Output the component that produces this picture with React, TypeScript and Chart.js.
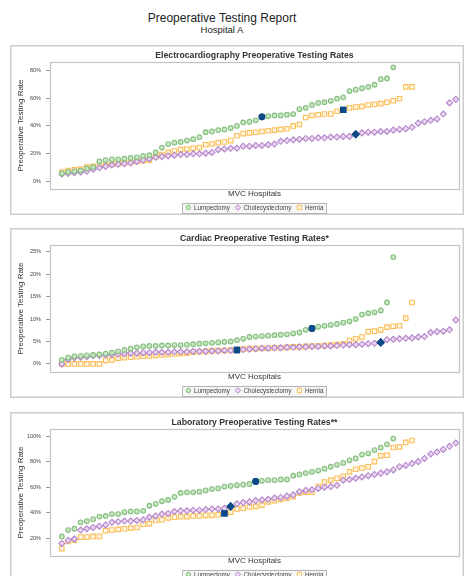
import React, { useEffect, useRef } from 'react';
import { Chart, registerables } from 'chart.js';
import { drawPoint } from 'chart.js/helpers';

Chart.register(...registerables);

const FONT = '"Liberation Sans", Arial, sans-serif';

// ---------- data ----------
const procedures = ['Lumpectomy', 'Cholecystectomy', 'Hernia'];

// Electrocardiography (% of patients), hospitals ranked ascending
const ecgLumpectomy = [6, 7, 7.5, 8, 9.5, 10.5, 14.5, 15.5, 16, 16, 16.5, 17, 17.5, 18.5, 19, 21, 24.5, 27, 28, 28.5, 29.5, 30.5, 32, 35.5, 36, 37, 37.5, 38.5, 40, 42.5, 43, 44, 46.5, 47, 47.5, 47.5, 48, 48.5, 52, 53, 55, 56.5, 57, 58, 59.5, 60.5, 65, 66, 67, 68, 69.5, 73.5, 74, 82];
const ecgCholecystectomy = [5.5, 6, 6.5, 7, 7.5, 9, 10, 11, 12, 12.5, 13, 13.5, 14.5, 15.5, 16.5, 17.5, 18, 18.5, 19, 19.5, 19.5, 20, 20, 20.5, 21, 23, 23.5, 24, 24, 25.5, 25.5, 26, 26, 26.5, 27, 29, 29.5, 30, 30.5, 31, 31, 31.5, 31.5, 32, 32, 32.5, 32.5, 34, 35, 35.5, 35.5, 36, 36, 37, 37.5, 38, 39, 42, 43, 44, 45, 48.5, 56.5, 59];
const ecgHernia = [7, 8, 8.5, 9, 10.5, 11, 11.5, 12, 12.5, 13, 13.5, 14, 14.5, 15, 15.5, 18, 19.5, 21, 22, 23, 23.5, 24, 24.5, 26.5, 27, 28, 28.5, 29.5, 33, 34.5, 35, 35.5, 36, 36.5, 37, 37.5, 38, 40, 41, 46, 47.5, 48, 48.5, 48.5, 50.5, 51.5, 53, 53.5, 54, 55, 55.5, 56, 57, 58, 59.5, 68, 68];
const ecgHospitalARank = [33, 48, 46];

// Cardiac
const cardiacLumpectomy = [0.9, 1.4, 1.7, 1.8, 1.9, 2.0, 2.1, 2.3, 2.5, 2.8, 3.1, 3.4, 3.7, 3.9, 4.0, 4.0, 4.1, 4.1, 4.2, 4.2, 4.3, 4.4, 4.5, 4.6, 4.7, 4.8, 4.9, 5.0, 5.3, 5.6, 6.0, 6.1, 6.2, 6.3, 6.4, 6.5, 6.6, 6.8, 7.0, 7.6, 7.9, 8.3, 8.5, 8.7, 8.9, 9.2, 9.5, 10.0, 11.0, 11.3, 11.5, 11.9, 13.7, 23.8];
const cardiacCholecystectomy = [0, 1.0, 1.4, 1.5, 1.6, 1.8, 1.9, 2.0, 2.1, 2.2, 2.3, 2.4, 2.4, 2.5, 2.5, 2.6, 2.6, 2.6, 2.7, 2.7, 2.7, 2.8, 2.8, 2.8, 2.9, 2.9, 3.0, 3.0, 3.1, 3.2, 3.3, 3.4, 3.5, 3.5, 3.6, 3.6, 3.7, 3.7, 3.8, 3.8, 3.9, 3.9, 4.0, 4.0, 4.1, 4.2, 4.3, 4.3, 4.4, 4.5, 4.6, 4.8, 5.4, 5.5, 5.6, 5.7, 5.8, 6.0, 6.1, 7.0, 7.2, 7.3, 7.6, 9.8];
const cardiacHernia = [0, 0, 0, 0, 0, 0, 0, 0.8, 0.9, 1.3, 1.4, 1.5, 1.6, 1.7, 1.8, 1.9, 2.0, 2.1, 2.2, 2.3, 2.4, 2.6, 2.7, 2.8, 2.9, 3.0, 3.0, 3.1, 3.1, 3.3, 3.4, 3.4, 3.5, 3.5, 3.6, 3.6, 3.7, 3.8, 3.8, 3.9, 4.0, 4.0, 4.1, 4.2, 4.3, 4.5, 5.2, 5.6, 6.0, 7.2, 7.3, 7.6, 8.2, 8.4, 8.5, 10.2, 13.7];
const cardiacHospitalARank = [41, 52, 29];

// Laboratory
const labLumpectomy = [21.5, 26.5, 27.5, 32.5, 33.5, 35, 37, 37.5, 39, 39, 40.5, 41, 41, 41.5, 45.5, 47, 49, 50, 52.5, 55.5, 56, 56, 56.5, 57.5, 58.5, 59, 60.5, 61, 61.5, 62, 62.5, 64.5, 65, 65.5, 65.5, 66, 66, 69, 70, 71, 72, 73, 74.5, 76, 77.5, 79, 81, 82.5, 85.5, 86.5, 89, 91, 93.5, 98];
const labCholecystectomy = [16, 18.5, 19.5, 26.5, 27.5, 28.5, 29.5, 30.5, 32.5, 33, 33.5, 33.5, 34, 34.5, 36.5, 37.5, 39, 39.5, 41, 41.5, 41.5, 42, 42, 42.5, 43, 43, 43.5, 45, 47, 48, 48.5, 49.5, 50, 50.5, 51.5, 52, 53, 54, 56.5, 57.5, 58, 59, 60, 60.5, 61.5, 65.5, 66, 67, 68, 69, 70, 71, 72, 73.5, 76, 77, 78.5, 80, 82.5, 86, 87.5, 89.5, 92, 94.5];
const labHernia = [12, 17.5, 18.5, 21, 21, 21.5, 21.5, 26, 26.5, 27, 27.5, 28, 28.5, 31, 31.5, 34, 34.5, 36, 36.5, 37, 37, 37.5, 37.5, 38, 38, 38.5, 39.5, 40.5, 43, 43.5, 44.5, 45, 46, 48.5, 49.5, 50.5, 51.5, 52.5, 55.5, 56, 56, 60.5, 64, 65.5, 67, 68.5, 72, 74, 75, 76, 80, 84.5, 85, 91, 91.5, 95, 96.5];
const labHospitalARank = [32, 28, 27];

// ---------- styling ----------
const markerStyles = ['circle', 'rectRot', 'rect'];
const markerRadius = [2.35, 3.0, 3.2];
const borderColors = ['#86bf80', '#b585c9', '#fbbd55'];
const fillColors = ['#cbe6c4', '#ead7f1', '#fff8e8'];
const hospitalAColor = '#0d4a88';

const panels = [
  { key: 'ecg', title: 'Electrocardiography Preoperative Testing Rates', series: [ecgLumpectomy, ecgCholecystectomy, ecgHernia], hospitalA: ecgHospitalARank, yMin: -5.2, yMax: 85.8, yStep: 20, top: 45 },
  { key: 'cardiac', title: 'Cardiac Preoperative Testing Rates*', series: [cardiacLumpectomy, cardiacCholecystectomy, cardiacHernia], hospitalA: cardiacHospitalARank, yMin: -1.8, yMax: 26.5, yStep: 5, top: 228 },
  { key: 'lab', title: 'Laboratory Preoperative Testing Rates**', series: [labLumpectomy, labCholecystectomy, labHernia], hospitalA: labHospitalARank, yMin: 6.2, yMax: 105.5, yStep: 20, top: 412 },
];

const CANVAS_W = 454;
const CANVAS_H = 170;

const panelDecor = {
  id: 'panelDecor',
  beforeDraw(chart: any) {
    const { ctx, width, height } = chart;
    ctx.save();
    ctx.fillStyle = '#ffffff';
    ctx.fillRect(0, 0, width, height);
    ctx.restore();
  },
  beforeDatasetsDraw(chart: any) {
    const { ctx, chartArea: a } = chart;
    ctx.save();
    ctx.strokeStyle = '#c4c4c4';
    ctx.lineWidth = 1.2;
    ctx.strokeRect(Math.round(a.left) + 0.5, Math.round(a.top) + 0.5, Math.round(a.right - a.left), Math.round(a.bottom - a.top));
    ctx.restore();
  },
  afterDatasetsDraw(chart: any, _args: any, opts: any) {
    // bring the Hospital A markers to the front
    const ranks: number[] = opts.hospitalA || [];
    chart.data.datasets.forEach((_d: any, s: number) => {
      const meta = chart.getDatasetMeta(s);
      const el = meta.data[ranks[s] - 1];
      if (el) el.draw(chart.ctx, chart.chartArea);
    });
  },
  afterDraw(chart: any) {
    const { ctx, chartArea: a, width, height } = chart;
    ctx.save();
    // outer frame
    ctx.strokeStyle = '#cdcdcd';
    ctx.lineWidth = 1.5;
    ctx.strokeRect(0.75, 0.75, width - 1.5, height - 1.5);

    // legend
    const ds = chart.data.datasets;
    ctx.font = `6.3px ${FONT}`;
    const markerW = 6;
    const gapM = 2.5;
    const gapItem = 5;
    const padX = 3;
    const widths = ds.map((d: any) => ctx.measureText(d.label).width);
    const total = padX * 2 + widths.reduce((s: number, w: number) => s + w + markerW + gapM, 0) + gapItem * (ds.length - 1);
    const cx = (a.left + a.right) / 2;
    const cy = a.bottom + 18.5;
    let x = cx - total / 2;
    ctx.fillStyle = '#f6f6f6';
    ctx.fillRect(x, cy - 5, total, 10);
    ctx.strokeStyle = '#b5b5b5';
    ctx.lineWidth = 1;
    ctx.strokeRect(Math.round(x) + 0.5, Math.round(cy - 5) + 0.5, Math.round(total), 10);
    x += padX;
    ds.forEach((d: any, i: number) => {
      ctx.fillStyle = fillColors[i];
      ctx.strokeStyle = borderColors[i];
      ctx.lineWidth = 1;
      drawPoint(ctx, { pointStyle: markerStyles[i], radius: i === 0 ? 2.2 : i === 1 ? 2.8 : 3.0, borderWidth: 1, rotation: 0 } as any, x + markerW / 2, cy);
      ctx.fillStyle = '#444';
      ctx.textBaseline = 'middle';
      ctx.textAlign = 'left';
      ctx.fillText(d.label, x + markerW + gapM, cy + 0.3);
      x += markerW + gapM + widths[i] + gapItem;
    });
    ctx.restore();
  },
};

function Panel({ panel }: { panel: any }) {
  const ref = useRef<HTMLCanvasElement>(null);
  useEffect(() => {
    if (!ref.current) return;
    const isA = (c: any, s: number) => c.dataIndex === panel.hospitalA[s] - 1;
    const chart = new Chart(ref.current, {
      type: 'scatter',
      data: {
        datasets: panel.series.map((values: number[], s: number) => ({
          label: procedures[s],
          data: values.map((v, i) => ({ x: i + 1, y: v })),
          pointStyle: markerStyles[s],
          pointRadius: (c: any) => (isA(c, s) ? markerRadius[s] + 0.5 : markerRadius[s]),
          pointBorderWidth: 1.1,
          pointBorderColor: (c: any) => (isA(c, s) ? hospitalAColor : borderColors[s]),
          pointBackgroundColor: (c: any) => (isA(c, s) ? hospitalAColor : fillColors[s]),
          showLine: false,
        })),
      },
      options: {
        responsive: false,
        animation: false,
        devicePixelRatio: 1,
        events: [],
        layout: { padding: { left: 0, right: 3, top: 0, bottom: 0 } },
        plugins: {
          legend: { display: false },
          tooltip: { enabled: false },
          panelDecor: { hospitalA: panel.hospitalA },
          title: {
            display: true,
            text: panel.title,
            fullSize: false,
            color: '#333',
            font: { family: FONT, size: 8.7, weight: 'bold' },
            padding: { top: 5, bottom: 1.56 },
          },
        },
        scales: {
          x: {
            type: 'linear',
            min: -0.9,
            max: 64.5,
            grid: { display: false },
            border: { display: false },
            ticks: { display: false },
            title: { display: true, text: 'MVC Hospitals', color: '#333', font: { family: FONT, size: 8 }, padding: { top: 0, bottom: 16 } },
            afterFit: (s: any) => { s.height = 26; },
          },
          y: {
            type: 'linear',
            min: panel.yMin,
            max: panel.yMax,
            grid: { drawOnChartArea: false, drawTicks: true, tickLength: 4, color: '#9a9a9a' },
            border: { display: false },
            ticks: {
              stepSize: panel.yStep,
              includeBounds: false,
              padding: 5,
              color: '#444',
              font: { family: FONT, size: 5.5 },
              callback: (v: any) => `${v}%`,
            },
            title: { display: true, text: 'Preoperative Testing Rate', color: '#333', font: { family: FONT, size: 8 }, padding: { top: 6, bottom: 0 } },
            afterFit: (s: any) => { s.width = 40; },
          },
        },
      },
      plugins: [panelDecor],
    } as any);
    return () => chart.destroy();
  }, [panel]);
  return (
    <canvas
      ref={ref}
      width={CANVAS_W}
      height={CANVAS_H}
      style={{ position: 'absolute', left: 10, top: panel.top, width: CANVAS_W, height: CANVAS_H }}
    />
  );
}

export default function App() {
  return (
    <div style={{ position: 'absolute', left: 0, top: 0, width: 465, height: 576, overflow: 'hidden', background: '#fff', fontFamily: FONT }}>
      <div style={{ position: 'absolute', left: 0, top: 12, width: 444, textAlign: 'center', color: '#222' }}>
        <div style={{ fontSize: 12, lineHeight: '13px' }}>Preoperative Testing Report</div>
        <div style={{ fontSize: 9.5, lineHeight: '10px' }}>Hospital A</div>
      </div>
      {panels.map((p) => (
        <Panel key={p.key} panel={p} />
      ))}
    </div>
  );
}
